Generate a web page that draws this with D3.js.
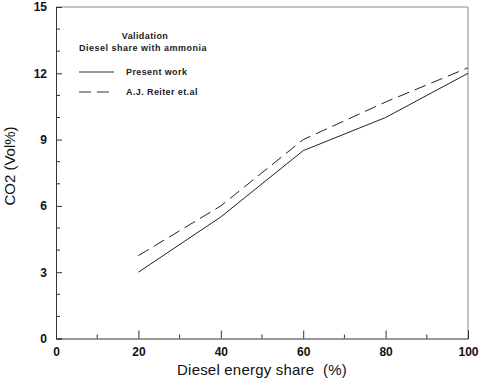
<!DOCTYPE html>
<html><head><meta charset="utf-8">
<script src="https://cdn.jsdelivr.net/npm/d3@7"></script>
<style>body{margin:0;background:#fff}svg{display:block}</style>
</head><body>
<script>
const xVals = [20, 40, 60, 80, 100];
const presentWork = [3.0, 5.5, 8.5, 10.0, 12.0];
const reiter = [3.75, 6.0, 9.0, 10.7, 12.25];
const xTicks = [0, 20, 40, 60, 80, 100];
const yTicks = [0, 3, 6, 9, 12, 15];
const seriesNames = ["Present work", "A.J. Reiter et.al"];

const W = 480, H = 378;
const svg = d3.select("body").append("svg").attr("width", W).attr("height", H);
const x = d3.scaleLinear().domain([0, 100]).range([56, 468]);
const y = d3.scaleLinear().domain([0, 15]).range([338.5, 7]);
const font = "Arial, 'Liberation Sans', sans-serif";

// frame top/right
svg.append("path").attr("d", `M${x(0)},${y(15)}H${x(100)}V${y(0)}`)
  .attr("fill", "none").attr("stroke", "#8a8a8a").attr("stroke-width", 1);

// left axis
const yAxis = d3.axisLeft(y).tickValues(yTicks).tickSize(-6).tickPadding(9).tickFormat(d3.format("d"));
const gy = svg.append("g").attr("transform", `translate(${x(0)},0)`).call(yAxis);
gy.select(".domain").attr("stroke", "#333");
gy.selectAll(".tick line").attr("stroke", "#333");
gy.selectAll("text").attr("font-family", font).attr("font-size", 12).attr("font-weight", "bold").attr("fill", "#111");
const yMinor = d3.range(0, 15.01, 1).filter(v => v % 3 !== 0);
svg.append("g").selectAll("line").data(yMinor).join("line")
  .attr("x1", x(0)).attr("x2", x(0) + 4).attr("y1", d => y(d)).attr("y2", d => y(d)).attr("stroke", "#333");

// bottom axis
const xAxis = d3.axisBottom(x).tickValues(xTicks).tickSize(-8).tickPadding(9).tickFormat(d3.format("d"));
const gx = svg.append("g").attr("transform", `translate(0,${y(0)})`).call(xAxis);
gx.select(".domain").attr("stroke", "#333");
gx.selectAll(".tick line").attr("stroke", "#333");
gx.selectAll("text").attr("font-family", font).attr("font-size", 12).attr("font-weight", "bold").attr("fill", "#111");
const xMinor = d3.range(10, 100, 20);
svg.append("g").selectAll("line").data(xMinor).join("line")
  .attr("x1", d => x(d)).attr("x2", d => x(d)).attr("y1", y(0)).attr("y2", y(0) - 4).attr("stroke", "#333");

// lines
const line = d3.line().x((d, i) => x(xVals[i])).y(d => y(d));
svg.append("path").datum(presentWork).attr("d", line).attr("fill", "none").attr("stroke", "#222").attr("stroke-width", 1);
svg.append("path").datum(reiter).attr("d", line).attr("fill", "none").attr("stroke", "#222").attr("stroke-width", 1).attr("stroke-dasharray", "12,6");

// axis titles
svg.append("text").attr("x", 262).attr("y", 375).attr("text-anchor", "middle")
  .attr("font-family", font).attr("font-size", 15).attr("letter-spacing", 0.2).attr("fill", "#111").attr("xml:space", "preserve")
  .text("Diesel energy share  (%)");
svg.append("text").attr("transform", "translate(15,166) rotate(-90)").attr("text-anchor", "middle")
  .attr("font-family", font).attr("font-size", 15).attr("fill", "#111").text("CO2 (Vol%)");

// legend
const lg = svg.append("g").attr("font-family", font).attr("font-weight", "bold").attr("font-size", 9).attr("fill", "#222");
lg.append("text").attr("x", 145).attr("y", 39).attr("text-anchor", "middle").attr("letter-spacing", 0.4).text("Validation");
lg.append("text").attr("x", 79).attr("y", 51).attr("letter-spacing", 0.5).text("Diesel share with ammonia");
lg.append("line").attr("x1", 79).attr("x2", 114).attr("y1", 72).attr("y2", 72).attr("stroke", "#333");
lg.append("text").attr("x", 126).attr("y", 75).attr("letter-spacing", 0.4).text(seriesNames[0]);
lg.append("line").attr("x1", 79).attr("x2", 114).attr("y1", 92).attr("y2", 92).attr("stroke", "#333").attr("stroke-dasharray", "12,6");
lg.append("text").attr("x", 126).attr("y", 95).attr("letter-spacing", 0.4).text(seriesNames[1]);
</script>
</body></html>
